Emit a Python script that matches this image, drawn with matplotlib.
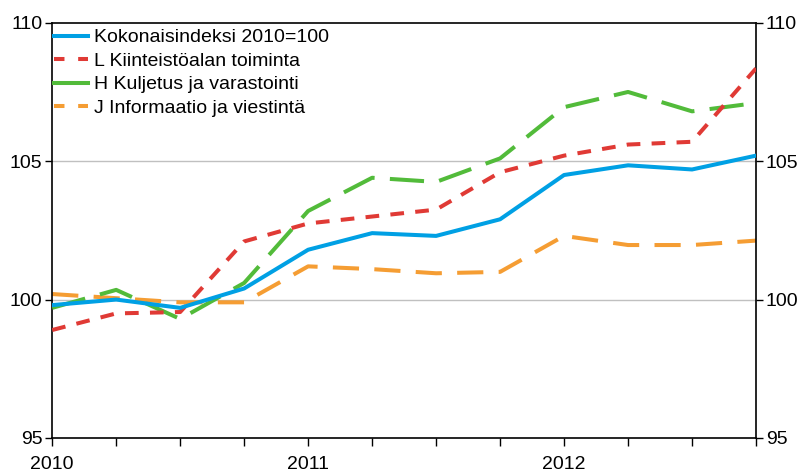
import matplotlib
matplotlib.use("Agg")
import matplotlib.pyplot as plt
from matplotlib.lines import Line2D

plt.rcParams['font.family'] = ['Liberation Sans', 'DejaVu Sans']

# quarterly index 2010Q1 .. 2012Q4
quarters = ['2010Q1', '2010Q2', '2010Q3', '2010Q4',
            '2011Q1', '2011Q2', '2011Q3', '2011Q4',
            '2012Q1', '2012Q2', '2012Q3', '2012Q4']
year_labels = ['2010', '', '', '', '2011', '', '', '', '2012', '', '', '']

total = [99.8, 100.0, 99.7, 100.4, 101.8, 102.4, 102.3, 102.9, 104.5, 104.85, 104.7, 105.2]
kiinteisto = [98.9, 99.5, 99.55, 102.1, 102.75, 103.0, 103.25, 104.6, 105.2, 105.6, 105.7, 108.35]
kuljetus = [99.7, 100.35, 99.3, 100.6, 103.2, 104.4, 104.25, 105.1, 106.95, 107.5, 106.8, 107.1]
informaatio = [100.2, 100.05, 99.9, 99.9, 101.2, 101.1, 100.95, 101.0, 102.3, 101.97, 101.97, 102.13]

labels = ['Kokonaisindeksi 2010=100', 'L Kiinteistöalan toiminta',
          'H Kuljetus ja varastointi', 'J Informaatio ja viestintä']

c_blue = '#00a0e4'
c_red = '#e03a35'
c_green = '#52bb3a'
c_orange = '#f59d33'

x = list(range(len(quarters)))

fig = plt.figure(figsize=(8.03, 4.74), dpi=100)
ax = fig.add_axes([0.065, 0.076, 0.8765, 0.876])

ax.axhline(100, color='#c0c0c0', lw=1, zorder=1)
ax.axhline(105, color='#c0c0c0', lw=1, zorder=1)

lw = 2.9
ax.plot(x, total, color=c_blue, lw=lw, zorder=5)
ax.plot(x, kiinteisto, color=c_red, lw=lw, dashes=(3.4, 2.8), zorder=4)
ax.plot(x, kuljetus, color=c_green, lw=lw, dashes=(8.5, 3.8), zorder=3)
ax.plot(x, informaatio, color=c_orange, lw=lw, dashes=(6.5, 3.8), zorder=2)

ax.set_xlim(0, 11)
ax.set_ylim(95, 110)
ax.set_xticks(x)
ax.set_xticklabels(year_labels)
ax.set_yticks([95, 100, 105, 110])
ax.tick_params(axis='x', direction='out', length=6, width=1, labelsize=14, pad=7)
ax.tick_params(axis='y', direction='out', length=5, width=1, labelsize=14,
               left=True, right=True, labelleft=True, labelright=True, pad=2)
for sp in ax.spines.values():
    sp.set_linewidth(1.2)
    sp.set_color('black')

handles = [Line2D([], [], color=c_blue, lw=lw),
           Line2D([], [], color=c_red, lw=lw, dashes=(2.6, 3.4)),
           Line2D([], [], color=c_green, lw=lw),
           Line2D([], [], color=c_orange, lw=lw, dashes=(2.6, 3.4))]
ax.legend(handles, labels, loc='upper left', frameon=False, fontsize=14,
          handlelength=1.75, handletextpad=0.3, labelspacing=0.3,
          borderaxespad=0.0, borderpad=0.1, bbox_to_anchor=(0.0, 0.99))

fig.savefig('out.png', dpi=100)
